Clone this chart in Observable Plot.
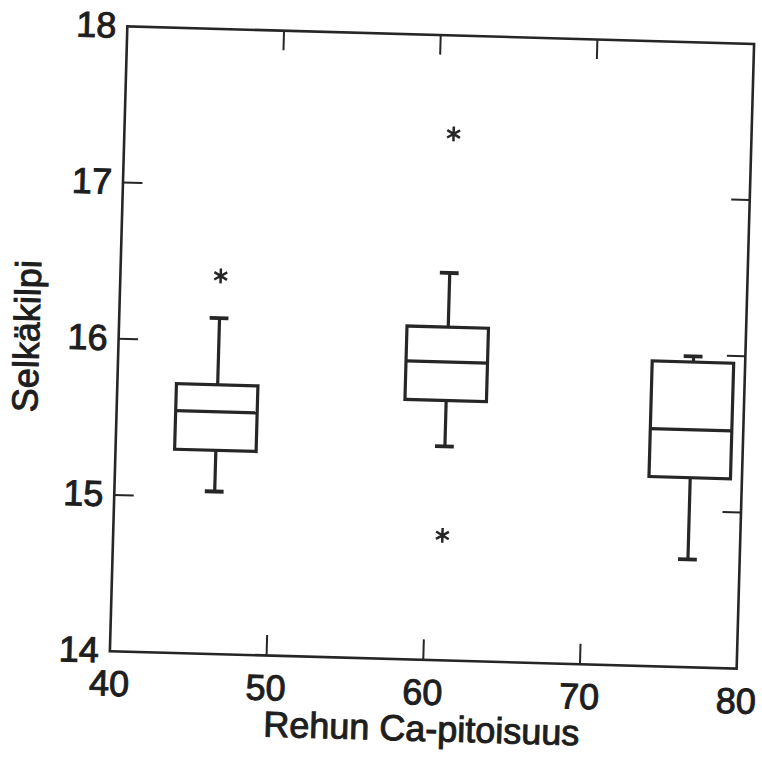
<!DOCTYPE html>
<html>
<head>
<meta charset="utf-8">
<script src="https://cdn.jsdelivr.net/npm/d3@7"></script>
<script src="https://cdn.jsdelivr.net/npm/@observablehq/plot@0.6"></script>
<style>
  html, body { margin: 0; padding: 0; background: #fff; overflow: hidden; }
  #chart svg { transform: rotate(1.6deg); transform-origin: 431.5px 347px; }
  #chart svg text { stroke: #1e1e1e; stroke-width: 1px; }
</style>
</head>
<body>
<div id="chart"></div>
<script>
// ---- data ----
const groupX      = [46.4, 61.0, 76.7];     // Ca content of each group
const whiskerLow  = [15.04, 15.37, 14.69];
const q1          = [15.30, 15.66, 15.21];
const median      = [15.55, 15.91, 15.52];
const q3          = [15.72, 16.13, 15.95];
const whiskerHigh = [16.15, 16.48, 15.99];
const outlierX    = [46.4, 61.0, 61.0];
const outlierY    = [16.42, 17.37, 14.80];
const xTicks      = [40, 50, 60, 70, 80];
const yTicks      = [14, 15, 16, 17, 18];
const innerXTicks = [50, 60, 70];
const innerYTicks = [15, 16, 17];
const xLabel = "Rehun Ca-pitoisuus";
const yLabel = "Selkäkilpi";

// ---- styling ----
const ink = "#262626";
const boxHalf = 2.6;   // half box width (x units)
const capHalf = 0.6;   // half whisker-cap width (x units)
const W = 762, H = 760;
const mL = 118, mR = 17, mT = 34.5, mB = 100.5;
const innerW = W - mL - mR, innerH = H - mT - mB;
const tickLen = 20;

const boxes = groupX.map((x, i) => ({
  x, lo: whiskerLow[i], q1: q1[i], med: median[i], q3: q3[i], hi: whiskerHigh[i]
}));
const outliers = outlierX.map((x, i) => ({x, y: outlierY[i]}));

const chart = Plot.plot({
  width: W,
  height: H,
  marginLeft: mL,
  marginRight: mR,
  marginTop: mT,
  marginBottom: mB,
  style: {fontFamily: "'Liberation Sans', Arial, Helvetica, sans-serif", fontSize: "36px", color: "#1e1e1e", background: "#fff", overflow: "visible"},
  x: {domain: [40, 80]},
  y: {domain: [14, 18]},
  marks: [
    Plot.frame({stroke: ink, strokeWidth: 2.6}),
    // inward ticks
    Plot.tickX(innerXTicks, {x: d => d, insetTop: innerH - tickLen, stroke: ink, strokeWidth: 2}),
    Plot.tickX(innerXTicks, {x: d => d, insetBottom: innerH - tickLen, stroke: ink, strokeWidth: 2}),
    Plot.tickY(innerYTicks, {y: d => d, insetRight: innerW - tickLen, stroke: ink, strokeWidth: 2}),
    Plot.tickY(innerYTicks, {y: d => d, insetLeft: innerW - tickLen + 2, stroke: ink, strokeWidth: 2}),
    // whiskers
    Plot.ruleX(boxes, {x: "x", y1: "q3", y2: "hi", stroke: ink, strokeWidth: 3.2}),
    Plot.ruleX(boxes, {x: "x", y1: "lo", y2: "q1", stroke: ink, strokeWidth: 3.2}),
    Plot.ruleY(boxes, {y: "hi", x1: d => d.x - capHalf, x2: d => d.x + capHalf, stroke: ink, strokeWidth: 3.8}),
    Plot.ruleY(boxes, {y: "lo", x1: d => d.x - capHalf, x2: d => d.x + capHalf, stroke: ink, strokeWidth: 3.8}),
    // boxes
    Plot.rect(boxes, {x1: d => d.x - boxHalf, x2: d => d.x + boxHalf, y1: "q1", y2: "q3", fill: "none", stroke: ink, strokeWidth: 3.2}),
    Plot.ruleY(boxes, {y: "med", x1: d => d.x - boxHalf, x2: d => d.x + boxHalf, stroke: ink, strokeWidth: 3.2}),
    // outliers
    Plot.dot(outliers, {x: "x", y: "y", symbol: "asterisk", r: 7, stroke: ink, strokeWidth: 2.5}),
    // axes
    Plot.axisX({ticks: xTicks, tickFormat: d => String(d), anchor: "bottom", tickSize: 0, tickPadding: 19,
      label: xLabel, labelAnchor: "center", labelOffset: 81, labelArrow: "none"}),
    Plot.axisY({ticks: yTicks, tickFormat: d => String(d), anchor: "left", tickSize: 0, tickPadding: 11,
      label: yLabel, labelAnchor: "center", labelOffset: 105, labelArrow: "none"})
  ]
});
document.getElementById("chart").appendChild(chart);
</script>
</body>
</html>
